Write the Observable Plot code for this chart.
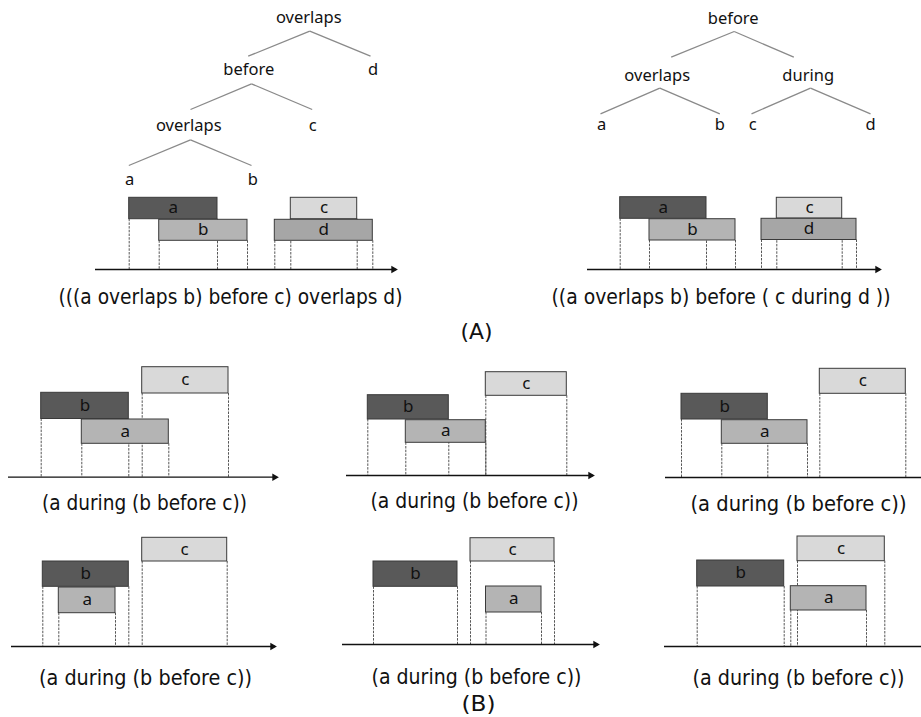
<!DOCTYPE html>
<html><head><meta charset="utf-8">
<script src="https://cdn.jsdelivr.net/npm/d3@7"></script>
<script src="https://cdn.jsdelivr.net/npm/@observablehq/plot@0.6"></script>
<style>body{margin:0;background:#fff}#chart svg{display:block}</style>
</head><body><div id="chart"></div>
<script>
const W = 921, H = 717;

// Panels: id, time-axis row, axis start/end, arrow?
const panelIds   = ["A1", "A2", "B1", "B2", "B3", "B4", "B5", "B6"];
const panelGroup = ["A", "A", "B", "B", "B", "B", "B", "B"];
const axisY      = [269, 269, 476.7, 475, 477, 646, 644, 646];
const axisStart  = [95, 587, 8, 346, 665, 11, 342, 664];
const axisEnd    = [396, 880, 277, 593, 921, 275, 598, 921];
const hasArrow   = [true, true, true, true, false, true, true, false];

// Intervals: panel, name, start, end, top, bottom
const intervals = [
  ["A1", "a", 128.7, 217, 197.3, 218.7],
  ["A1", "b", 158.7, 247, 219.3, 240.3],
  ["A1", "c", 290.3, 356.7, 197.3, 218.7],
  ["A1", "d", 274.3, 372.3, 219.3, 240.3],
  ["A2", "a", 619.7, 706, 196.7, 218.3],
  ["A2", "b", 649, 735, 218.7, 240],
  ["A2", "c", 776.3, 841.7, 197.3, 218],
  ["A2", "d", 761, 856, 218.3, 239.5],
  ["B1", "b", 40.7, 128.3, 392.3, 418.5],
  ["B1", "a", 81.3, 168.3, 419, 443.3],
  ["B1", "c", 141.7, 228, 366.7, 393],
  ["B2", "b", 367.3, 448.3, 394.7, 419],
  ["B2", "a", 405.3, 485.3, 419.7, 442.3],
  ["B2", "c", 485.3, 566.3, 371.7, 395.3],
  ["B3", "b", 681, 767.3, 393.3, 419],
  ["B3", "a", 721.3, 807, 419.7, 443.3],
  ["B3", "c", 819.3, 905.3, 368.3, 393.3],
  ["B4", "b", 42.3, 128.3, 561, 586.3],
  ["B4", "a", 58.3, 115, 587, 612.7],
  ["B4", "c", 141.7, 226.7, 537.3, 561],
  ["B5", "b", 373, 457, 561, 586.3],
  ["B5", "c", 470, 554, 537.7, 561],
  ["B5", "a", 485.5, 541, 586, 612],
  ["B6", "b", 696.7, 783.7, 560, 586],
  ["B6", "c", 797, 884.3, 536, 560.7],
  ["B6", "a", 790.3, 866, 585.7, 610]
];

// Tree nodes: panel, label, x, y
const treeNodes = [
  ["A1", "overlaps", 308.3, 17.3],
  ["A1", "before", 248.3, 69.3],
  ["A1", "d", 372.7, 69.3],
  ["A1", "overlaps", 188.3, 125.7],
  ["A1", "c", 312.3, 125.7],
  ["A1", "a", 129, 179],
  ["A1", "b", 252.3, 179],
  ["A2", "before", 732.7, 18.3],
  ["A2", "overlaps", 656.7, 75],
  ["A2", "during", 807.7, 75],
  ["A2", "a", 601, 124],
  ["A2", "b", 719.3, 124],
  ["A2", "c", 752.3, 124],
  ["A2", "d", 870, 124]
];

// Tree edges: x1, y1, x2, y2
const treeEdges = [
  [309.3, 30.7, 247.7, 55.7], [309.3, 30.7, 370, 55.7],
  [251, 83.3, 190, 109], [251, 83.3, 311.7, 109],
  [190, 139.3, 128.3, 165], [190, 139.3, 251, 165],
  [733.7, 31, 670.7, 56.7], [733.7, 31, 793.3, 56.7],
  [659.3, 87.7, 600, 113.3], [659.3, 87.7, 719.3, 113.3],
  [810, 87.7, 751, 113.3], [810, 87.7, 870, 113.3]
];

// Captions
const captionText = [
  "(((a overlaps b) before c) overlaps d)",
  "((a overlaps b) before ( c during d ))",
  "(A)",
  "(a during (b before c))",
  "(a during (b before c))",
  "(a during (b before c))",
  "(a during (b before c))",
  "(a during (b before c))",
  "(a during (b before c))",
  "(B)"
];
const captionX = [230, 720.5, 476, 144, 474, 798, 145, 476, 798, 478];
const captionY = [296, 296, 331, 502, 500, 503, 677, 676, 677, 703];
const captionWidth = [344, 339, 32, 205, 208, 216, 213, 210, 212, 34];

// Styles
const shade = {
  A: {a: "#595959", b: "#b4b4b4", c: "#d9d9d9", d: "#a6a6a6"},
  B: {a: "#b4b4b4", b: "#595959", c: "#d9d9d9"}
};

// Build tables
const panels = panelIds.map((id, i) => ({id, group: panelGroup[i], axisY: axisY[i], x1: axisStart[i], x2: axisEnd[i], arrow: hasArrow[i]}));
const panelById = Object.fromEntries(panels.map(p => [p.id, p]));
const bars = intervals.map(([panel, name, start, end, top, bottom]) => ({panel, name, start, end, top, bottom, group: panelById[panel].group}));
const guides = bars.flatMap(b => [b.start, b.end].map(x => ({x, top: b.bottom, base: panelById[b.panel].axisY})));
const nodes = treeNodes.map(([panel, label, x, y]) => ({panel, label, x, y}));
const edges = treeEdges.map(([x1, y1, x2, y2]) => ({x1, y1, x2, y2}));
const captions = captionText.map((t, i) => ({t, x: captionX[i], y: captionY[i], w: captionWidth[i]}));

const chart = Plot.plot({
  width: W, height: H, margin: 0,
  x: {domain: [0, W], range: [0, W], axis: null},
  y: {domain: [0, H], range: [0, H], axis: null},
  style: {background: "#fff"},
  marks: [
    Plot.link(edges, {x1: "x1", y1: "y1", x2: "x2", y2: "y2", stroke: "#8a8a8a", strokeWidth: 1.3}),
    Plot.text(nodes, {x: "x", y: "y", text: "label", fontSize: 16.5, fontFamily: "'Noto Sans', 'Open Sans', sans-serif", fill: "#111"}),
    Plot.ruleX(guides, {x: "x", y1: "top", y2: "base", stroke: "#444", strokeWidth: 0.9, strokeDasharray: "2.5,1.2"}),
    Plot.ruleY(panels, {y: "axisY", x1: "x1", x2: "x2", stroke: "#111", strokeWidth: 1.3}),
    Plot.dot(panels.filter(p => p.arrow), {x: "x2", y: "axisY", dx: -3, symbol: "triangle2", rotate: 90, r: 3.6, fill: "#111", stroke: null}),
    Plot.rect(bars, {x1: "start", x2: "end", y1: "top", y2: "bottom", fill: d => shade[d.group][d.name], stroke: "#3a3a3a", strokeWidth: 1}),
    Plot.text(bars, {x: d => (d.start + d.end) / 2, y: d => (d.top + d.bottom) / 2 - 0.5, text: "name", fontSize: 17, fontFamily: "'Noto Sans', 'Open Sans', sans-serif", fill: "#111"}),
    Plot.text(captions, {x: "x", y: "y", text: "t", fontSize: 22, fontFamily: "'DejaVu Sans Condensed', 'Liberation Sans Narrow', 'Roboto', sans-serif", fill: "#111"})
  ]
});
document.getElementById("chart").appendChild(chart);

// Squeeze captions to the condensed width of the original typeface
const textGroups = chart.querySelectorAll('g[aria-label="text"]');
const captionGroup = textGroups[textGroups.length - 1];
captionGroup.querySelectorAll("text").forEach((el, i) => {
  el.setAttribute("textLength", captions[i].w);
  el.setAttribute("lengthAdjust", "spacingAndGlyphs");
});
</script></body></html>
